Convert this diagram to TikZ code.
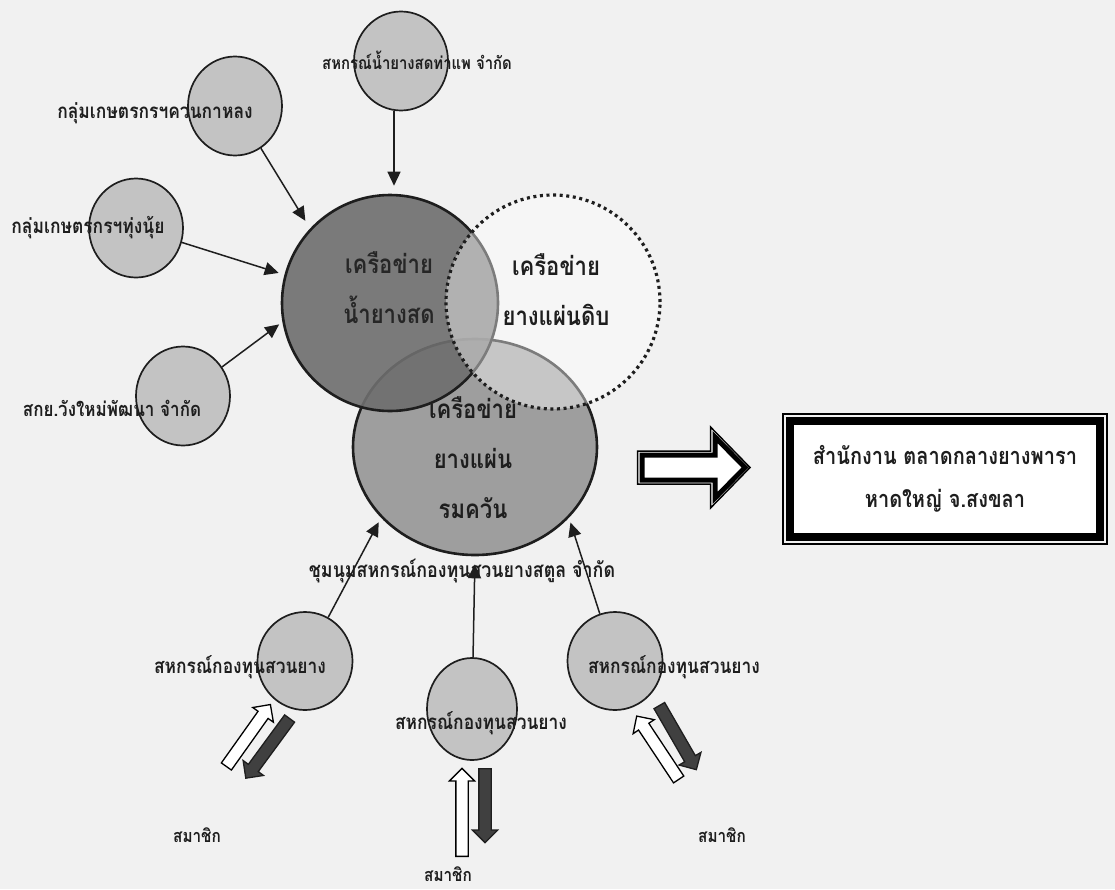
\documentclass[tikz,border=0pt]{standalone}
\usepackage{fontspec}
\setmainfont{Loma}[Script=Thai, FakeStretch=0.85]
\usetikzlibrary{positioning,fit,shapes.geometric,shapes.arrows,arrows.meta}
\definecolor{paper}{HTML}{F1F1F1}
\definecolor{latexgray}{HTML}{6E6E6E}
\definecolor{smokegray}{HTML}{9E9E9E}
\definecolor{coopgray}{HTML}{C3C3C3}
\definecolor{ink}{HTML}{1E1E1E}
\tikzset{
  coop/.style={ellipse, draw=ink, line width=1.7pt, fill=coopgray, minimum width=94pt, minimum height=99pt, inner sep=0pt},
  lbl/.style={font=\bfseries\fontsize{20.5}{20.5}\selectfont, text=ink, inner sep=0pt},
  net/.style={font=\bfseries\fontsize{26}{50}\selectfont, align=center, inner sep=0pt},
  feed/.style={draw=ink, line width=1.5pt, -{Triangle[length=14pt,width=13pt]}},
  inarrow/.style={single arrow, draw=black, fill=white, line width=1.3pt, minimum height=76pt, single arrow head extend=6.5pt, inner sep=5.5pt, anchor=tail},
  outarrow/.style={single arrow, draw=ink, fill=ink!85, line width=1.3pt, minimum height=74pt, single arrow head extend=6.5pt, inner sep=5.5pt, anchor=tail}
}
\begin{document}
\begin{tikzpicture}[x=1pt, y=-1pt]
  \fill[paper] (0,0) rectangle (1115,889);
  \useasboundingbox (0,0) rectangle (1115,889);
  %Nodes:
  \node[ellipse, draw=ink, line width=2.6pt, fill=smokegray, minimum width=244pt, minimum height=216pt] (smoked) at (475,447) {};
  \node[circle, draw=ink, line width=2.6pt, fill=latexgray, fill opacity=0.9, minimum size=216pt] (latex) at (390,303) {};
  \node[circle, draw=ink, line width=3.2pt, dash pattern=on 3pt off 3.6pt, fill=white, fill opacity=0.42, minimum size=214pt] (sheet) at (553,302) {};
  \node[net, text=black!85] (latextext) at (389,288) {เครือข่าย\\น้ำยางสด};
  \node[net, text=ink] (sheettext) at (556,290) {เครือข่าย\\ยางแผ่นดิบ};
  \node[net, text=ink] (smokedtext) at (473,458) {เครือข่าย\\ยางแผ่น\\รมควัน};

  \node[coop] (tahpae) at (401,61) {};
  \node[coop] (khuan) at (235,106) {};
  \node[coop] (thungnui) at (136,228) {};
  \node[coop] (wangmai) at (183,396) {};
  \node[lbl, font=\bfseries\fontsize{17.5}{17.5}\selectfont] (tahpaetext) at (417,60) {สหกรณ์น้ำยางสดท่าแพ จำกัด};
  \node[lbl] (khuantext) at (155,113) {กลุ่มเกษตรกรฯควนกาหลง};
  \node[lbl] (thungnuitext) at (88,228) {กลุ่มเกษตรกรฯทุ่งนุ้ย};
  \node[lbl, font=\bfseries\fontsize{20}{20}\selectfont] (wangmaitext) at (112,408) {สกย.วังใหม่พัฒนา จำกัด};

  \node[coop, minimum width=95pt, minimum height=98pt] (coopL) at (305,661) {};
  \node[coop, minimum width=90pt, minimum height=102pt] (coopM) at (472,709) {};
  \node[coop, minimum width=95pt, minimum height=98pt] (coopR) at (615,661) {};
  \node[lbl, font=\bfseries\fontsize{21}{21}\selectfont] (chumnum) at (462,571) {ชุมนุมสหกรณ์กองทุนสวนยางสตูล จำกัด};
  \node[lbl] (coopLtext) at (240,667) {สหกรณ์กองทุนสวนยาง};
  \node[lbl] (coopMtext) at (481,723) {สหกรณ์กองทุนสวนยาง};
  \node[lbl] (coopRtext) at (674,667) {สหกรณ์กองทุนสวนยาง};

  \node[inarrow, rotate=54.6] (giveL) at (226,767) {};
  \node[outarrow, rotate=233.7] (backL) at (290,718) {};
  \node[inarrow, rotate=90, minimum height=88pt] (giveM) at (462,857) {};
  \node[outarrow, rotate=270] (backM) at (485,768) {};
  \node[inarrow, rotate=123.5] (giveR) at (679,780) {};
  \node[outarrow, rotate=300] (backR) at (659,705) {};
  \node[lbl, font=\bfseries\fontsize{18}{18}\selectfont] (memberL) at (197,835) {สมาชิก};
  \node[lbl, font=\bfseries\fontsize{18}{18}\selectfont] (memberM) at (448,874) {สมาชิก};
  \node[lbl, font=\bfseries\fontsize{18}{18}\selectfont] (memberR) at (722,835) {สมาชิก};

  \node[draw=black, fill=white, line width=8pt, minimum width=310pt, minimum height=116pt, align=center, font=\bfseries\fontsize{23.5}{43}\selectfont, text=ink] (office) at (945,479) {สำนักงาน ตลาดกลางยางพารา\\หาดใหญ่ จ.สงขลา};
  \node[draw=black, line width=2.2pt, fit=(office), inner sep=3pt] (officeframe) {};

  %Edges:
  \draw[feed, shorten >=8pt] (tahpae.262) -- (tahpae.262 |- latex.north);
  \draw[feed, shorten >=9pt] (khuan) -- (latex.137);
  \draw[feed, shorten >=6pt] (thungnui) -- (latex.165);
  \draw[feed, shorten >=4pt] (wangmai) -- (latex.190);
  \draw[feed, shorten >=5pt] (coopL) -- (smoked.217);
  \draw[feed, shorten >=8pt] (coopM) -- (smoked.south);
  \draw[feed, shorten >=5pt] (coopR) -- (smoked.323);
  % block arrow to the office
  \draw[black, line width=1.5pt, fill=white] (637.5,451) -- (710.5,451) -- (710.5,427) -- (750,467.5) -- (710.5,508) -- (710.5,484) -- (637.5,484) -- cycle;
  \draw[black, line width=5pt, line join=miter] (642,455) -- (715,455) -- (715,437) -- (745,467.5) -- (715,498) -- (715,480) -- (642,480) -- cycle;
\end{tikzpicture}
\end{document}
